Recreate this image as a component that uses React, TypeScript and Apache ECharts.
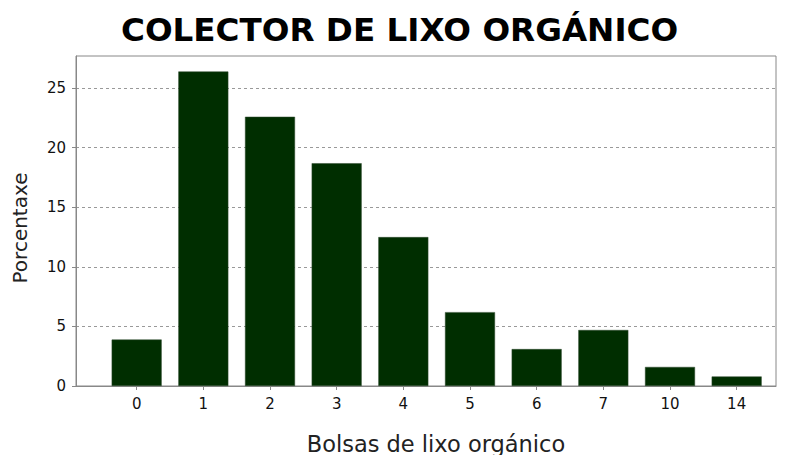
import React, { useEffect, useRef } from "react";
import * as echarts from "echarts";

const categories = ["0", "1", "2", "3", "4", "5", "6", "7", "10", "14"];
const values = [3.9, 26.4, 22.6, 18.7, 12.5, 6.2, 3.1, 4.7, 1.6, 0.8];
const yTicks = [0, 5, 10, 15, 20, 25];

export default function App() {
  const ref = useRef<HTMLDivElement>(null);
  useEffect(() => {
    if (!ref.current) return;
    const chart = echarts.init(ref.current, null, { renderer: "svg" });
    const positions = categories.map((_, i) => i);
    chart.setOption({
      animation: false,
      backgroundColor: "#ffffff",
      title: {
        text: "COLECTOR DE LIXO ORGÁNICO",
        left: 121,
        top: 13,
        padding: 0,
        textStyle: { fontFamily: "DejaVu Sans", fontWeight: "bold", fontSize: 32.6, color: "#000" },
      },
      grid: {
        left: 76,
        right: 14,
        top: 56,
        bottom: 69,
        show: true,
        borderColor: "#888",
        borderWidth: 1,
        backgroundColor: "transparent",
        outerBoundsMode: "none",
        containLabel: false,
      },
      xAxis: {
        type: "value",
        min: -0.91,
        max: 9.59,
        name: "Bolsas de lixo orgánico",
        nameLocation: "middle",
        nameGap: 46,
        nameTextStyle: { fontFamily: "DejaVu Sans", fontSize: 22.5, color: "#222", padding: [0, 0, 0, 20] },
        axisLine: { show: true, onZero: false, lineStyle: { color: "#888" } },
        axisTick: { show: true, customValues: positions, length: 4, lineStyle: { color: "#888" } },
        axisLabel: {
          customValues: positions,
          formatter: (v: number) => categories[Math.round(v)] ?? "",
          fontFamily: "DejaVu Sans",
          fontSize: 15,
          color: "#111",
          margin: 10,
        },
        splitLine: { show: false },
      },
      yAxis: {
        type: "value",
        min: 0,
        max: 27.7,
        name: "Porcentaxe",
        nameLocation: "middle",
        nameGap: 46,
        nameTextStyle: { fontFamily: "DejaVu Sans", fontSize: 20, color: "#222", padding: [0, 14, 0, 0] },
        axisLine: { show: true, onZero: false, lineStyle: { color: "#888" } },
        axisTick: { show: true, customValues: yTicks, length: 4, lineStyle: { color: "#888" } },
        axisLabel: {
          customValues: yTicks,
          fontFamily: "DejaVu Sans",
          fontSize: 15,
          color: "#111",
          margin: 10,
        },
        splitLine: { show: true, lineStyle: { color: "#999", type: [3, 3], width: 1 } },
        interval: 5,
      },
      series: [
        {
          type: "bar",
          data: values.map((v, i) => [i, v]),
          barWidth: 50,
          itemStyle: { color: "#002e00", borderColor: "#2e4a2e", borderWidth: 0.5 },
        },
      ],
    });
    return () => chart.dispose();
  }, []);
  return <div ref={ref} style={{ width: 790, height: 455, position: "absolute", left: 0, top: 0 }} />;
}
